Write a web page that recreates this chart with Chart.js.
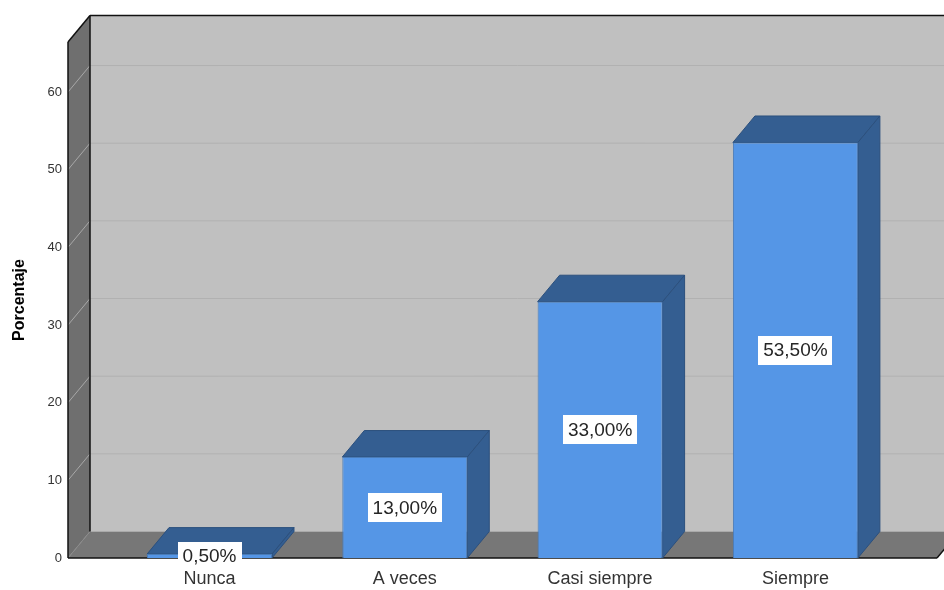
<!DOCTYPE html>
<html>
<head>
<meta charset="utf-8">
<script src="https://cdn.jsdelivr.net/npm/chart.js@4/dist/chart.umd.min.js"></script>
<style>
  body { margin: 0; background: #ffffff; }
  #wrap { width: 944px; height: 590px; position: relative; }
</style>
</head>
<body>
<div id="wrap"><canvas id="chart"></canvas></div>
<script>
const categories = ["Nunca", "A veces", "Casi siempre", "Siempre"];
const porcentajes = [0.5, 13.0, 33.0, 53.5];
const yTicks = [0, 10, 20, 30, 40, 50, 60];

// 3D depth of walls and bars
const DX = 22;
const DY = 26.5;

const FONT = "Arial, 'Liberation Sans', sans-serif";

const formatPct = (v) => v.toFixed(2).replace(".", ",") + "%";

const poly = function (ctx, pts, fill, stroke) {
  ctx.beginPath();
  ctx.moveTo(pts[0][0], pts[0][1]);
  for (let i = 1; i < pts.length; i++) ctx.lineTo(pts[i][0], pts[i][1]);
  ctx.closePath();
  if (fill) {
    ctx.fillStyle = fill;
    ctx.fill();
  }
  if (stroke) {
    ctx.strokeStyle = stroke;
    ctx.lineWidth = 1;
    ctx.stroke();
  }
};

const line = function (ctx, x1, y1, x2, y2, color, w) {
  ctx.beginPath();
  ctx.moveTo(x1, y1);
  ctx.lineTo(x2, y2);
  ctx.strokeStyle = color;
  ctx.lineWidth = w || 1;
  ctx.stroke();
};

const box3d = {
  id: "box3d",
  beforeDatasetsDraw(chart) {
    const ctx = chart.ctx;
    const { left, right, top, bottom } = chart.chartArea;
    const yScale = chart.scales.y;
    ctx.save();

    // walls and floor
    poly(ctx, [[left, top], [left + DX, top - DY], [left + DX, bottom - DY], [left, bottom]], "#6f6f6f");
    ctx.fillStyle = "#c0c0c0";
    ctx.fillRect(left + DX, top - DY, right - left + DX, bottom - top);
    poly(ctx, [[left, bottom], [right, bottom], [right + DX, bottom - DY], [left + DX, bottom - DY]], "#777777");

    // grid lines on left and back walls
    yTicks.forEach((v) => {
      const y = yScale.getPixelForValue(v);
      line(ctx, left, y, left + DX, y - DY, v === 0 ? "#8a8a8a" : "#a8a8a8");
      if (v > 0) line(ctx, left + DX, y - DY, right + DX + 20, y - DY, "#b1b1b1");
    });

    // black edges
    line(ctx, left + DX, top - DY, left + DX, bottom - DY, "#111", 1.5);
    line(ctx, left, top, left, bottom, "#111", 1.5);
    line(ctx, left, top, left + DX, top - DY, "#111", 1.5);
    line(ctx, left + DX, top - DY, right + DX + 20, top - DY, "#111", 1.5);
    line(ctx, left, bottom, right, bottom, "#111", 1.5);
    line(ctx, right, bottom, right + DX, bottom - DY, "#111", 1.5);

    // bar tops and sides
    chart.getDatasetMeta(0).data.forEach((bar) => {
      const l = bar.x - bar.width / 2;
      const r = bar.x + bar.width / 2;
      const y = bar.y;
      const b = bar.base;
      poly(ctx, [[l, y], [r, y], [r + DX, y - DY], [l + DX, y - DY]], "#345e91", "#2c507d");
      poly(ctx, [[r, y], [r + DX, y - DY], [r + DX, b - DY], [r, b]], "#345e91", "#2c507d");
    });
    ctx.restore();
  },
  afterDraw(chart) {
    const ctx = chart.ctx;
    const yScale = chart.scales.y;
    ctx.save();
    ctx.font = "19px " + FONT;
    ctx.textAlign = "center";
    ctx.textBaseline = "middle";
    chart.getDatasetMeta(0).data.forEach((bar, i) => {
      const v = porcentajes[i];
      const text = formatPct(v);
      const cy = yScale.getPixelForValue(v / 2);
      const w = ctx.measureText(text).width + 10;
      const h = 29;
      ctx.fillStyle = "#ffffff";
      ctx.fillRect(Math.round(bar.x - w / 2), Math.round(cy - h / 2), Math.round(w), h);
      ctx.fillStyle = "#262626";
      ctx.fillText(text, bar.x, cy + 1);
    });
    ctx.restore();
  },
};

new Chart(document.querySelector("#chart"), {
  type: "bar",
  data: {
    datasets: [
      {
        data: porcentajes.map((v, i) => ({ x: i, y: v })),
        backgroundColor: "#5596e6",
        borderColor: "#4a7cb8",
        borderWidth: 1,
        barPercentage: 0.64,
        categoryPercentage: 1,
      },
    ],
  },
  options: {
    responsive: true,
    maintainAspectRatio: false,
    animation: false,
    layout: { padding: { top: 42, right: 7, left: 0, bottom: 0 } },
    plugins: { legend: { display: false }, tooltip: { enabled: false } },
    scales: {
      x: {
        type: "linear",
        offset: false,
        min: -0.7245,
        max: 3.725,
        afterBuildTicks: (axis) => {
          axis.ticks = categories.map((c, i) => ({ value: i }));
        },
        afterFit: (axis) => {
          axis.height = 32;
        },
        grid: { display: false, tickLength: 0 },
        border: { display: false },
        ticks: {
          callback: (value) => categories[value] ?? "",
          font: { family: FONT, size: 18 },
          color: "#333333",
          padding: 10,
          maxRotation: 0,
          autoSkip: false,
        },
      },
      y: {
        min: 0,
        max: 66.44,
        afterBuildTicks: (axis) => {
          axis.ticks = yTicks.map((v) => ({ value: v }));
        },
        afterFit: (axis) => {
          axis.width = 68;
        },
        grid: { display: false, tickLength: 0 },
        border: { display: false },
        ticks: {
          font: { family: FONT, size: 13 },
          color: "#333333",
          padding: 6,
        },
        title: {
          display: true,
          text: "Porcentaje",
          font: { family: FONT, size: 16, weight: "bold" },
          color: "#000000",
          padding: { top: 10 },
        },
      },
    },
  },
  plugins: [box3d],
});
</script>
</body>
</html>
